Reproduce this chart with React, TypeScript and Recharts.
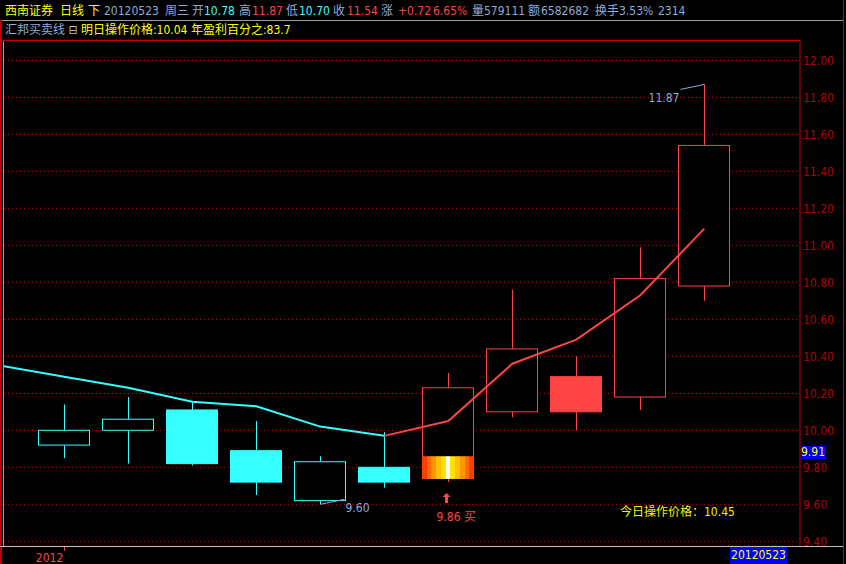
import React from 'react';
import { ComposedChart, Bar, Line, XAxis, YAxis, CartesianGrid } from 'recharts';

// day index (-1 is the day just before the window, only its line value shows)
const dayIndex = [-1, 0, 1, 2, 3, 4, 5, 6, 7, 8, 9, 10];
const openPrice = [null, 9.92, 10.0, 10.11, 9.89, 9.62, 9.8, 9.74, 10.1, 10.29, 10.18, 10.78];
const closePrice = [null, 10.0, 10.06, 9.82, 9.72, 9.83, 9.72, 10.23, 10.44, 10.1, 10.82, 11.54];
const highPrice = [null, 10.14, 10.18, 10.15, 10.05, 9.86, 9.99, 10.31, 10.76, 10.4, 10.99, 11.87];
const lowPrice = [null, 9.85, 9.82, 9.81, 9.65, 9.6, 9.69, 9.72, 10.07, 10.0, 10.11, 10.7];
const trendLine = [10.35, 10.29, 10.23, 10.155, 10.13, 10.02, 9.97, 10.05, 10.36, 10.49, 10.73, 11.09];
const trend = ['down', 'down', 'down', 'down', 'down', 'down', 'down', 'up', 'up', 'up', 'up', 'up'];
const buyPrice = [null, null, null, null, null, null, null, 9.86, null, null, null, null];

const yTicks = [9.4, 9.6, 9.8, 10.0, 10.2, 10.4, 10.6, 10.8, 11.0, 11.2, 11.4, 11.6, 11.8, 12.0];
const yearTicks = [0];
const yearLabels = ['2012'];

const CYAN = '#36ffff';
const RED = '#ff4444';
const AXIS_RED = '#b40000';
const GRAY_BLUE = '#8eaad8';
const YELLOW = '#ffff00';
const FONT = "Tahoma, 'DejaVu Sans Condensed', 'Noto Sans CJK SC', sans-serif";

const maxHigh = Math.max(...(highPrice.filter((v) => v != null) as number[]));
const minLow = Math.min(...(lowPrice.filter((v) => v != null) as number[]));

const data = dayIndex.map((idx, i) => ({
  idx,
  open: openPrice[i],
  close: closePrice[i],
  high: highPrice[i],
  low: lowPrice[i],
  trend: trend[i],
  buy: buyPrice[i],
  lineDown: i <= 6 ? trendLine[i] : null,
  lineUp: i >= 6 ? trendLine[i] : null,
}));

// header line: text, left, colour, cjk
const header: [string, number, string, boolean][] = [
  ['西南证券', 5, YELLOW, true],
  ['日线', 60, YELLOW, true],
  ['下', 88, YELLOW, true],
  ['20120523', 104, GRAY_BLUE, false],
  ['周三', 165, GRAY_BLUE, true],
  ['开', 192, GRAY_BLUE, true],
  ['10.78', 204, CYAN, false],
  ['高', 239, GRAY_BLUE, true],
  ['11.87', 252, RED, false],
  ['低', 286, GRAY_BLUE, true],
  ['10.70', 299, CYAN, false],
  ['收', 333, GRAY_BLUE, true],
  ['11.54', 347, RED, false],
  ['涨', 381, GRAY_BLUE, true],
  ['+0.72', 398, RED, false],
  ['6.65%', 433, RED, false],
  ['量', 472, GRAY_BLUE, true],
  ['579111', 484, GRAY_BLUE, false],
  ['额', 528, GRAY_BLUE, true],
  ['6582682', 541, GRAY_BLUE, false],
  ['换手', 595, GRAY_BLUE, true],
  ['3.53%', 619, GRAY_BLUE, false],
  ['2314', 658, GRAY_BLUE, false],
];

const flameStops = ['#ff3c00', '#ff6a00', '#ff9600', '#ffbe00', '#ffe000', '#ffffff', '#ffe000', '#ffbe00', '#ff9600', '#ff6a00', '#ff3c00'];

const Candle = (props: any) => {
  const { x, y, width, height, payload } = props;
  if (!payload || payload.high == null || !isFinite(y) || !isFinite(height)) return <g />;
  const top = Math.min(y, y + height);
  const h = Math.abs(height);
  const span = payload.high - payload.low;
  const py = (v: number) => top + ((payload.high - v) / span) * h;
  const color = payload.trend === 'up' ? RED : CYAN;
  const cx = Math.floor(x + width / 2) + 0.5;
  const left = Math.round(x) + 0.5;
  const w = Math.round(width) - 1;
  const bodyTop = py(Math.max(payload.open, payload.close));
  const bodyBot = py(Math.min(payload.open, payload.close));
  const filled = payload.close < payload.open;
  const hy = py(payload.high);
  const ly = py(payload.low);
  const n = flameStops.length;

  return (
    <g>
      <line x1={cx} y1={hy} x2={cx} y2={bodyTop} stroke={color} strokeWidth={1} />
      <line x1={cx} y1={bodyBot} x2={cx} y2={ly} stroke={color} strokeWidth={1} />
      <rect
        x={left}
        y={bodyTop}
        width={w}
        height={Math.max(bodyBot - bodyTop, 1)}
        fill={filled ? color : '#000'}
        stroke={color}
        strokeWidth={1}
      />
      {payload.buy != null && (
        <g>
          <defs>
            <linearGradient id="flame" x1="0" y1="0" x2="1" y2="0">
              {flameStops.map((c, k) => (
                <React.Fragment key={k}>
                  <stop offset={k / n} stopColor={c} />
                  <stop offset={(k + 1) / n} stopColor={c} />
                </React.Fragment>
              ))}
            </linearGradient>
          </defs>
          <rect x={left - 0.5} y={py(payload.buy)} width={w + 1} height={bodyBot - py(payload.buy) + 0.5} fill="url(#flame)" />
          <path
            d={`M${cx - 2} ${ly + 11} L${cx + 2} ${ly + 15} L${cx - 0.5} ${ly + 15} L${cx - 0.5} ${ly + 21} L${cx - 3.5} ${ly + 21} L${cx - 3.5} ${ly + 15} L${cx - 6} ${ly + 15} Z`}
            fill={RED}
          />
          <text x={cx - 12} y={ly + 39} fill={RED} fontSize={12} fontFamily={FONT}>
            {payload.buy.toFixed(2)} 买
          </text>
        </g>
      )}
      {payload.high === maxHigh && (
        <g>
          <line x1={cx} y1={hy} x2={cx - 24} y2={hy + 5} stroke={GRAY_BLUE} strokeWidth={1} />
          <text x={cx - 25} y={hy + 18} fill={GRAY_BLUE} fontSize={12} fontFamily={FONT} textAnchor="end">
            {payload.high.toFixed(2)}
          </text>
        </g>
      )}
      {payload.low === minLow && (
        <g>
          <line x1={cx} y1={ly} x2={cx + 24} y2={ly - 5} stroke={GRAY_BLUE} strokeWidth={1} />
          <text x={cx + 25} y={ly + 8} fill={GRAY_BLUE} fontSize={12} fontFamily={FONT}>
            {payload.low.toFixed(2)}
          </text>
        </g>
      )}
    </g>
  );
};

const YearTick = (props: any) => {
  const { x, y, payload } = props;
  const i = yearTicks.indexOf(payload.value);
  return (
    <g>
      <line x1={Math.floor(x) + 0.5} y1={y + 1} x2={Math.floor(x) + 0.5} y2={y + 5} stroke={RED} />
      <text x={x - 1} y={y + 16} fill={RED} fontSize={12} fontFamily={FONT} textAnchor="end">
        {yearLabels[i]}
      </text>
    </g>
  );
};

const line = (left: number, top: number, width: number, height: number, color: string) => (
  <div style={{ position: 'absolute', left, top, width, height, background: color }} />
);

export default function App() {
  return (
    <div
      style={{
        position: 'absolute',
        left: 0,
        top: 0,
        width: 846,
        height: 564,
        background: '#000',
        overflow: 'hidden',
        fontFamily: FONT,
      }}
    >
      <ComposedChart width={846} height={564} data={data} margin={{ top: 40, right: 0, bottom: 0, left: 4 }}>
        <CartesianGrid horizontal vertical={false} stroke="#c80000" strokeDasharray="1 3" />
        <XAxis
          dataKey="idx"
          type="number"
          domain={[-0.942, 11.495]}
          allowDataOverflow
          ticks={yearTicks}
          height={18}
          axisLine={false}
          tickLine={false}
          tickSize={0}
          tickMargin={0}
          tick={<YearTick />}
        />
        <YAxis
          orientation="right"
          width={46}
          domain={[9.3746, 12.11]}
          allowDataOverflow
          ticks={yTicks}
          tickFormatter={(v: number) => v.toFixed(2)}
          tick={{ fill: AXIS_RED, fontSize: 12, fontFamily: FONT }}
          tickLine={false}
          tickSize={1}
          tickMargin={2}
          axisLine={{ stroke: '#c00000' }}
        />
        <Bar
          dataKey={(d: any) => (d.high == null ? null : [d.low, d.high])}
          barSize={52}
          shape={<Candle />}
          isAnimationActive={false}
        />
        <Line dataKey="lineDown" stroke={CYAN} strokeWidth={2} dot={false} isAnimationActive={false} />
        <Line dataKey="lineUp" stroke={RED} strokeWidth={2} dot={false} isAnimationActive={false} />
      </ComposedChart>

      {/* frame */}
      {line(0, 20, 843, 1, '#a0a0a0')}
      {line(0, 20, 2, 544, '#c00000')}
      {line(3, 40, 1, 506, '#a0a0a0')}
      {line(3, 40, 797, 1, '#c00000')}
      {line(0, 546, 843, 1, '#c0c0c0')}
      {line(843, 0, 1, 564, '#c00000')}

      {/* header */}
      {header.map(([text, left, color, cjk]) => (
        <div
          key={left}
          style={{
            position: 'absolute',
            left,
            top: 3,
            fontSize: 12,
            lineHeight: '16px',
            whiteSpace: 'pre',
            color,
          }}
        >
          {text}
        </div>
      ))}
      <div style={{ position: 'absolute', left: 5, top: 22, fontSize: 12, lineHeight: '16px', whiteSpace: 'pre', color: GRAY_BLUE }}>
        <span>汇邦买卖线 </span>
        <span style={{ color: '#c0c0c0' }}>⊟ </span>
        <span style={{ color: YELLOW }}>明日操作价格:10.04 年盈利百分之:83.7</span>
      </div>

      <div style={{ position: 'absolute', left: 620, top: 505, fontSize: 12, lineHeight: '14px', color: '#f0f000', whiteSpace: 'pre' }}>
        今日操作价格：10.45
      </div>

      <div
        style={{
          position: 'absolute',
          left: 801,
          top: 446,
          width: 24,
          height: 13,
          background: '#0000ff',
          color: YELLOW,
          fontSize: 12,
          lineHeight: '13px',
          textAlign: 'center',
        }}
      >
        9.91
      </div>
      <div
        style={{
          position: 'absolute',
          left: 730,
          top: 547,
          width: 57,
          height: 17,
          background: '#0000ff',
          color: YELLOW,
          fontSize: 12,
          lineHeight: '17px',
          textAlign: 'center',
        }}
      >
        20120523
      </div>
    </div>
  );
}
